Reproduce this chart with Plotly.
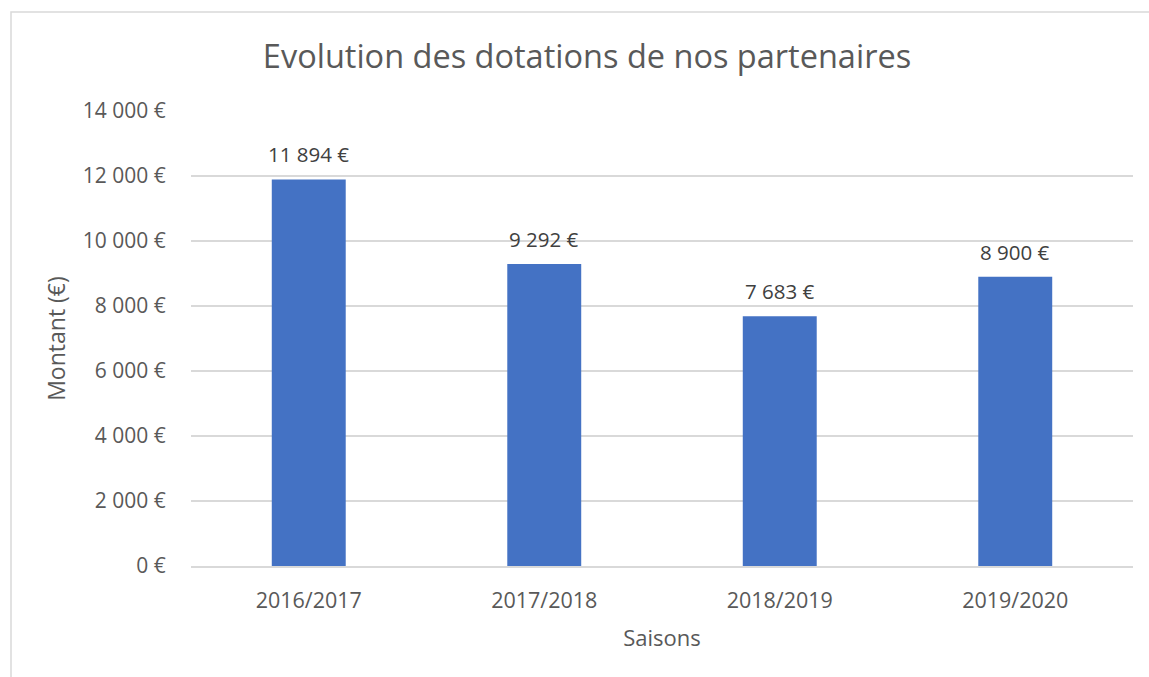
import plotly.graph_objects as go

seasons = ["2016/2017", "2017/2018", "2018/2019", "2019/2020"]
amounts = [11894, 9292, 7683, 8900]
labels = ["11 894 €", "9 292 €", "7 683 €", "8 900 €"]
ytick_vals = [0, 2000, 4000, 6000, 8000, 10000, 12000, 14000]
ytick_text = ["0 €", "2 000 €", "4 000 €", "6 000 €", "8 000 €", "10 000 €", "12 000 €", "14 000 €"]

FONT = "Open Sans"
TXT = "#595959"

fig = go.Figure(go.Bar(x=seasons, y=amounts, marker=dict(color="#4472C4", line=dict(width=0)),
                       hoverinfo="skip"))

for s, v, t in zip(seasons, amounts, labels):
    fig.add_annotation(x=s, y=v, text=t, showarrow=False, yanchor="bottom", yshift=9,
                       font=dict(family=FONT, size=20.5, color="#404040"))

fig.update_layout(
    width=1149, height=677,
    margin=dict(l=191, r=16, t=111, b=111),
    paper_bgcolor="white", plot_bgcolor="white",
    bargap=0.686,
    showlegend=False,
    title=dict(text="Evolution des dotations de nos partenaires", x=587 / 1149, xanchor="center",
               y=1 - 57 / 677, yanchor="middle", font=dict(family=FONT, size=32.5, color=TXT)),
    font=dict(family=FONT, color=TXT),
    xaxis=dict(showgrid=False, showline=True, linecolor="#D9D9D9", linewidth=1.5,
               ticks="outside", ticklen=14, tickcolor="rgba(0,0,0,0)",
               tickfont=dict(family=FONT, size=21.5, color=TXT),
               title=dict(text="Saisons", font=dict(family=FONT, size=22, color=TXT), standoff=18)),
    yaxis=dict(range=[0, 14000], tickvals=ytick_vals, ticktext=ytick_text,
               showgrid=True, gridcolor="#D9D9D9", gridwidth=1.5, zeroline=False,
               showline=False, ticks="outside", ticklen=20, tickcolor="rgba(0,0,0,0)",
               tickfont=dict(family=FONT, size=21, color=TXT),
               title=dict(text="Montant (€)", font=dict(family=FONT, size=23, color=TXT), standoff=10)),
)

fig.add_shape(type="rect", xref="paper", yref="paper",
              x0=-180 / 942, x1=1.1, y0=-0.5, y1=1 + 99 / 455,
              line=dict(color="#D9D9D9", width=1.5), fillcolor="rgba(0,0,0,0)", layer="below")

fig.write_html("out.html", config={"displayModeBar": False},
               post_script="document.body.style.margin='0';document.body.style.padding='0';")
